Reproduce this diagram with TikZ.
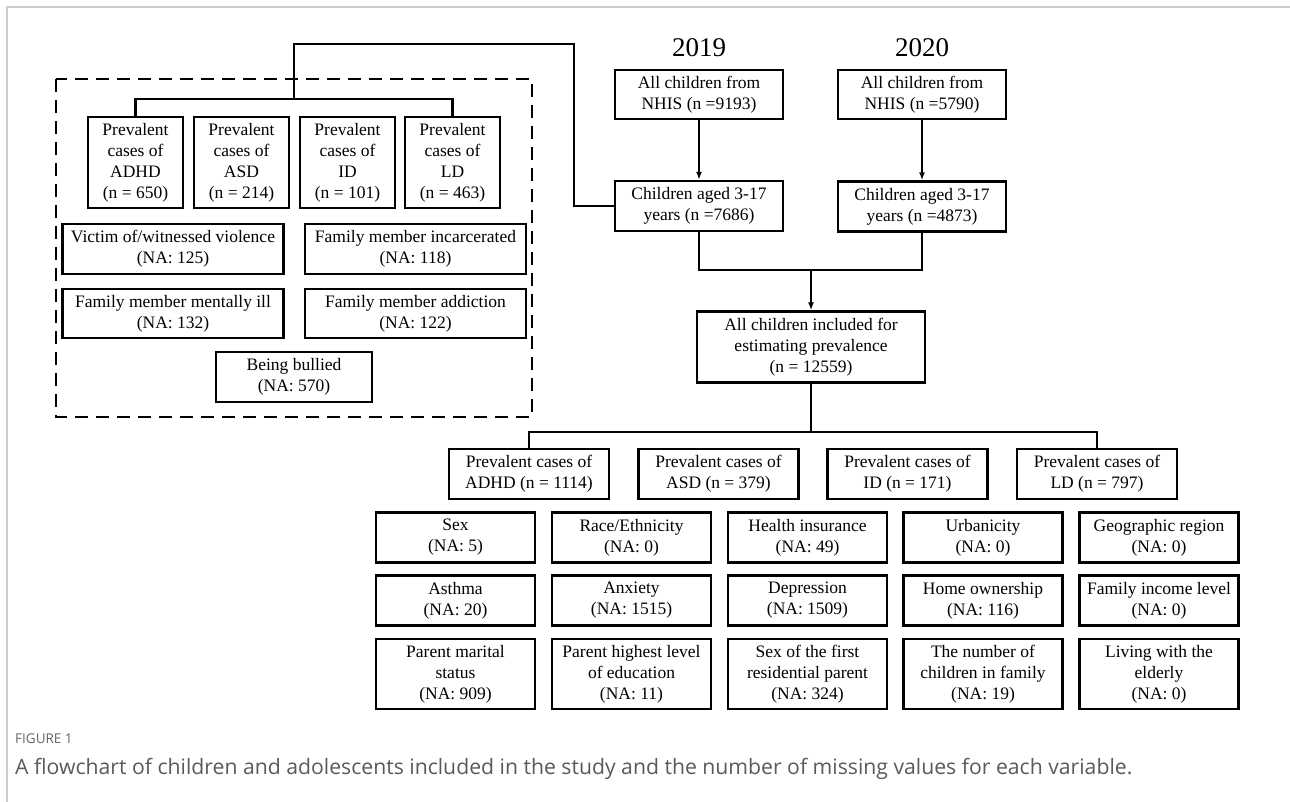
\documentclass[tikz,border=0pt]{standalone}
\usepackage{fontspec}
\setmainfont{Liberation Serif}
\newfontfamily\capfont{Open Sans}
\usetikzlibrary{arrows.meta}
\definecolor{framegray}{HTML}{CCCCCC}
\definecolor{capgray}{HTML}{5A5A5A}
\definecolor{figgray}{HTML}{666666}
\begin{document}
\begin{tikzpicture}[x=1pt,y=-1pt,
  box/.style={draw, line width=2.4pt, inner sep=0pt, align=center, font=\fontsize{17.5}{21}\selectfont},
  conn/.style={line width=2.2pt},
  arr/.style={line width=2.2pt, -{Latex[length=8pt,width=6pt]}},
  grp/.style={line width=2.8pt, dash pattern=on 13pt off 8pt},
  yr/.style={font=\fontsize{27}{30}\selectfont, inner sep=0pt},
]
\useasboundingbox (0,0) rectangle (1290,802);
\fill[white] (0,0) rectangle (1290,802);
\draw[framegray, line width=1.5pt] (7,802) -- (7,7) -- (1290,7);

% group box
\draw[grp] (56,79) rectangle (532,417);

% left small boxes
\node[box, minimum width=95pt, minimum height=91pt] (sa) at (135.5,162.5) {Prevalent\\cases of\\ADHD\\(n = 650)};
\node[box, minimum width=95pt, minimum height=91pt] (sb) at (241.5,162.5) {Prevalent\\cases of\\ASD\\(n = 214)};
\node[box, minimum width=95pt, minimum height=91pt] (sc) at (347.5,162.5) {Prevalent\\cases of\\ID\\(n = 101)};
\node[box, minimum width=95pt, minimum height=91pt] (sd) at (452.5,162.5) {Prevalent\\cases of\\LD\\(n = 463)};

\node[box, minimum width=221pt, minimum height=50pt] (v1) at (173,249) {Victim of/witnessed violence\\(NA: 125)};
\node[box, minimum width=221pt, minimum height=50pt] (v2) at (415.5,249) {Family member incarcerated\\(NA: 118)};
\node[box, minimum width=221pt, minimum height=49pt] (v3) at (173,313.5) {Family member mentally ill\\(NA: 132)};
\node[box, minimum width=221pt, minimum height=49pt] (v4) at (415.5,313.5) {Family member addiction\\(NA: 122)};
\node[box, minimum width=156pt, minimum height=50pt] (v5) at (294,377) {Being bullied\\(NA: 570)};

% right top
\node[yr] (y19) at (699,48) {2019};
\node[yr] (y20) at (922,48) {2020};
\node[box, minimum width=168pt, minimum height=49pt] (a19) at (699,94.5) {All children from\\NHIS (n =9193)};
\node[box, minimum width=168pt, minimum height=49pt] (a20) at (922,94.5) {All children from\\NHIS (n =5790)};
\node[box, minimum width=168pt, minimum height=50pt] (c19) at (699,206) {Children aged 3-17\\years (n =7686)};
\node[box, minimum width=168pt, minimum height=50pt] (c20) at (922,206.5) {Children aged 3-17\\years (n =4873)};
\node[box, minimum width=228pt, minimum height=71pt] (all) at (811,347) {All children included for\\estimating prevalence\\(n = 12559)};

% prevalence boxes
\node[box, minimum width=160pt, minimum height=50pt] (pa) at (529,474) {Prevalent cases of\\ADHD (n = 1114)};
\node[box, minimum width=160pt, minimum height=50pt] (pb) at (718.5,474) {Prevalent cases of\\ASD (n = 379)};
\node[box, minimum width=160pt, minimum height=50pt] (pc) at (907.5,474) {Prevalent cases of\\ID (n = 171)};
\node[box, minimum width=160pt, minimum height=50pt] (pd) at (1097,474) {Prevalent cases of\\LD (n = 797)};

% variables
\node[box, minimum width=159pt, minimum height=50pt] (r11) at (455.5,537.5) {Sex\\(NA: 5)};
\node[box, minimum width=159pt, minimum height=50pt] (r12) at (631.5,537.5) {Race/Ethnicity\\(NA: 0)};
\node[box, minimum width=159pt, minimum height=50pt] (r13) at (807.5,537.5) {Health insurance\\(NA: 49)};
\node[box, minimum width=159pt, minimum height=50pt] (r14) at (983,537.5) {Urbanicity\\(NA: 0)};
\node[box, minimum width=159pt, minimum height=50pt] (r15) at (1159,537.5) {Geographic region\\(NA: 0)};

\node[box, minimum width=159pt, minimum height=50pt] (r21) at (455.5,600.5) {Asthma\\(NA: 20)};
\node[box, minimum width=159pt, minimum height=50pt] (r22) at (631.5,600.5) {Anxiety\\(NA: 1515)};
\node[box, minimum width=159pt, minimum height=50pt] (r23) at (807.5,600.5) {Depression\\(NA: 1509)};
\node[box, minimum width=159pt, minimum height=50pt] (r24) at (983,600.5) {Home ownership\\(NA: 116)};
\node[box, minimum width=159pt, minimum height=50pt] (r25) at (1159,600.5) {Family income level\\(NA: 0)};

\node[box, minimum width=159pt, minimum height=70pt] (r31) at (455.5,674) {Parent marital\\status\\(NA: 909)};
\node[box, minimum width=159pt, minimum height=70pt] (r32) at (631.5,674) {Parent highest level\\of education\\(NA: 11)};
\node[box, minimum width=159pt, minimum height=70pt] (r33) at (807.5,674) {Sex of the first\\residential parent\\(NA: 324)};
\node[box, minimum width=159pt, minimum height=70pt] (r34) at (983,674) {The number of\\children in family\\(NA: 19)};
\node[box, minimum width=159pt, minimum height=70pt] (r35) at (1159,674) {Living with the\\elderly\\(NA: 0)};

% connectors
\coordinate (j1) at (574,44);
\coordinate (j2) at (294,44);
\coordinate (j3) at (294,99);
\draw[conn] (c19.west) -| (j1) -- (j2) -- (j3);
\draw[conn] (sa.north) |- (j3) -| (sd.north);

\draw[arr] (a19) -- (c19);
\draw[arr] (a20) -- (c20);
\coordinate (m) at (811,270);
\draw[conn] (c19.south) |- (m) -| (c20.south);
\draw[arr] (m) -- (all);
\coordinate (b) at (811,432);
\draw[conn] (all) -- (b);
\draw[conn] (pa.north) |- (b) -| (pd.north);

% caption
\node[anchor=base west, inner sep=0pt, font=\capfont\fontsize{13.5}{15}\selectfont, text=figgray] (fig) at (15,743) {FIGURE 1};
\node[anchor=base west, inner sep=0pt, font=\capfont\fontsize{21.2}{24}\selectfont, text=capgray] (cap) at (15,774) {A flowchart of children and adolescents included in the study and the number of missing values for each variable.};
\end{tikzpicture}
\end{document}
